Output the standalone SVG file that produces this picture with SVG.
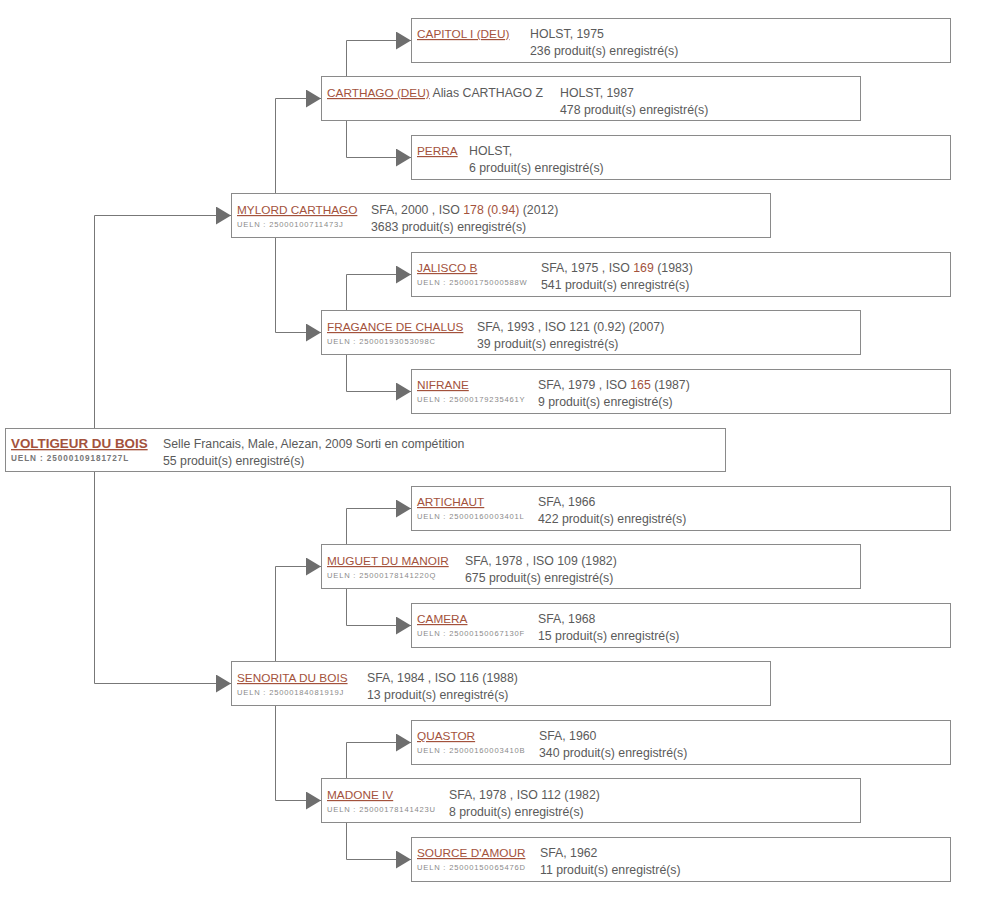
<svg xmlns="http://www.w3.org/2000/svg" width="989" height="898" viewBox="0 0 989 898">
<style>
.box{fill:#fff;stroke:#8a8a8a;stroke-width:1}
.nm{font-family:"Liberation Sans",Arial,sans-serif;font-size:11.8px;fill:#a3523c;text-decoration:underline}
.nmb{font-family:"Liberation Sans",Arial,sans-serif;font-size:13.4px;font-weight:bold;fill:#a3523c;text-decoration:underline}
.in{font-family:"Liberation Sans",Arial,sans-serif;font-size:12.3px;fill:#5a5a5a}
.ue{font-family:"Liberation Sans",Arial,sans-serif;font-size:7.6px;fill:#8a8a8a;letter-spacing:0.8px}
.ueb{font-family:"Liberation Sans",Arial,sans-serif;font-size:8.2px;font-weight:bold;fill:#777;letter-spacing:0.9px}
.iso{fill:#a3523c}
.cn{fill:none;stroke:#777;stroke-width:1;marker-end:url(#ah)}
</style>
<defs>
<marker id="ah" markerUnits="userSpaceOnUse" markerWidth="15" markerHeight="18" refX="15" refY="9" orient="auto">
<path d="M0,0 L15,9 L0,18 Z" fill="#6e6e6e"/>
</marker>
</defs>
<rect width="989" height="898" fill="#fff"/>
<g id="connectors">
<path class="cn" d="M94.5,428 V215.5 H231"/>
<path class="cn" d="M94.5,471 V683.5 H231"/>
<path class="cn" d="M275.5,193 V98.5 H321"/>
<path class="cn" d="M275.5,237 V332.5 H321"/>
<path class="cn" d="M346.5,76 V40.5 H411"/>
<path class="cn" d="M346.5,120 V157.5 H411"/>
<path class="cn" d="M346.5,310 V274.5 H411"/>
<path class="cn" d="M346.5,354 V391.5 H411"/>
<path class="cn" d="M275.5,661 V566.5 H321"/>
<path class="cn" d="M275.5,705 V800.5 H321"/>
<path class="cn" d="M346.5,544 V508.5 H411"/>
<path class="cn" d="M346.5,588 V625.5 H411"/>
<path class="cn" d="M346.5,778 V742.5 H411"/>
<path class="cn" d="M346.5,822 V859.5 H411"/>
</g>
<g id="capitol">
<rect class="box" x="411.5" y="18.5" width="539" height="44"/>
<text class="nm" x="417" y="38">CAPITOL I (DEU)</text>
<text class="in" x="530" y="38">HOLST, 1975</text>
<text class="in" x="530" y="55">236 produit(s) enregistré(s)</text>
</g>
<g id="carthago">
<rect class="box" x="321.5" y="76.5" width="539" height="44"/>
<text class="in" x="327" y="97"><tspan class="nm">CARTHAGO (DEU)</tspan> Alias CARTHAGO Z</text>
<text class="in" x="560" y="97">HOLST, 1987</text>
<text class="in" x="560" y="114">478 produit(s) enregistré(s)</text>
</g>
<g id="perra">
<rect class="box" x="411.5" y="135.5" width="539" height="44"/>
<text class="nm" x="417" y="155">PERRA</text>
<text class="in" x="469" y="155">HOLST,</text>
<text class="in" x="469" y="172">6 produit(s) enregistré(s)</text>
</g>
<g id="mylord">
<rect class="box" x="231.5" y="193.5" width="539" height="44"/>
<text class="nm" x="237" y="214">MYLORD CARTHAGO</text>
<text class="ue" x="237" y="227">UELN : 25000100711473J</text>
<text class="in" x="371" y="214">SFA, 2000 , ISO <tspan class="iso">178 (0.94)</tspan> (2012)</text>
<text class="in" x="371" y="231">3683 produit(s) enregistré(s)</text>
</g>
<g id="jalisco">
<rect class="box" x="411.5" y="252.5" width="539" height="44"/>
<text class="nm" x="417" y="272">JALISCO B</text>
<text class="ue" x="417" y="285">UELN : 25000175000588W</text>
<text class="in" x="541" y="272">SFA, 1975 , ISO <tspan class="iso">169</tspan> (1983)</text>
<text class="in" x="541" y="289">541 produit(s) enregistré(s)</text>
</g>
<g id="fragance">
<rect class="box" x="321.5" y="310.5" width="539" height="44"/>
<text class="nm" x="327" y="331">FRAGANCE DE CHALUS</text>
<text class="ue" x="327" y="344">UELN : 25000193053098C</text>
<text class="in" x="477" y="331">SFA, 1993 , ISO 121 (0.92) (2007)</text>
<text class="in" x="477" y="348">39 produit(s) enregistré(s)</text>
</g>
<g id="nifrane">
<rect class="box" x="411.5" y="369.5" width="539" height="44"/>
<text class="nm" x="417" y="389">NIFRANE</text>
<text class="ue" x="417" y="402">UELN : 25000179235461Y</text>
<text class="in" x="538" y="389">SFA, 1979 , ISO <tspan class="iso">165</tspan> (1987)</text>
<text class="in" x="538" y="406">9 produit(s) enregistré(s)</text>
</g>
<g id="voltigeur">
<rect class="box" x="5.5" y="428.5" width="720" height="43"/>
<text class="nmb" x="11" y="448">VOLTIGEUR DU BOIS</text>
<text class="ueb" x="11" y="461">UELN : 25000109181727L</text>
<text class="in" x="163" y="448">Selle Francais, Male, Alezan, 2009 Sorti en compétition</text>
<text class="in" x="163" y="465">55 produit(s) enregistré(s)</text>
</g>
<g id="artichaut">
<rect class="box" x="411.5" y="486.5" width="539" height="44"/>
<text class="nm" x="417" y="506">ARTICHAUT</text>
<text class="ue" x="417" y="519">UELN : 25000160003401L</text>
<text class="in" x="538" y="506">SFA, 1966</text>
<text class="in" x="538" y="523">422 produit(s) enregistré(s)</text>
</g>
<g id="muguet">
<rect class="box" x="321.5" y="544.5" width="539" height="44"/>
<text class="nm" x="327" y="565">MUGUET DU MANOIR</text>
<text class="ue" x="327" y="578">UELN : 25000178141220Q</text>
<text class="in" x="465" y="565">SFA, 1978 , ISO 109 (1982)</text>
<text class="in" x="465" y="582">675 produit(s) enregistré(s)</text>
</g>
<g id="camera">
<rect class="box" x="411.5" y="603.5" width="539" height="44"/>
<text class="nm" x="417" y="623">CAMERA</text>
<text class="ue" x="417" y="636">UELN : 25000150067130F</text>
<text class="in" x="538" y="623">SFA, 1968</text>
<text class="in" x="538" y="640">15 produit(s) enregistré(s)</text>
</g>
<g id="senorita">
<rect class="box" x="231.5" y="661.5" width="539" height="44"/>
<text class="nm" x="237" y="682">SENORITA DU BOIS</text>
<text class="ue" x="237" y="695">UELN : 25000184081919J</text>
<text class="in" x="367" y="682">SFA, 1984 , ISO 116 (1988)</text>
<text class="in" x="367" y="699">13 produit(s) enregistré(s)</text>
</g>
<g id="quastor">
<rect class="box" x="411.5" y="720.5" width="539" height="44"/>
<text class="nm" x="417" y="740">QUASTOR</text>
<text class="ue" x="417" y="753">UELN : 25000160003410B</text>
<text class="in" x="539" y="740">SFA, 1960</text>
<text class="in" x="539" y="757">340 produit(s) enregistré(s)</text>
</g>
<g id="madone">
<rect class="box" x="321.5" y="778.5" width="539" height="44"/>
<text class="nm" x="327" y="799">MADONE IV</text>
<text class="ue" x="327" y="812">UELN : 25000178141423U</text>
<text class="in" x="449" y="799">SFA, 1978 , ISO 112 (1982)</text>
<text class="in" x="449" y="816">8 produit(s) enregistré(s)</text>
</g>
<g id="source">
<rect class="box" x="411.5" y="837.5" width="539" height="44"/>
<text class="nm" x="417" y="857">SOURCE D'AMOUR</text>
<text class="ue" x="417" y="870">UELN : 25000150065476D</text>
<text class="in" x="540" y="857">SFA, 1962</text>
<text class="in" x="540" y="874">11 produit(s) enregistré(s)</text>
</g>
</svg>
